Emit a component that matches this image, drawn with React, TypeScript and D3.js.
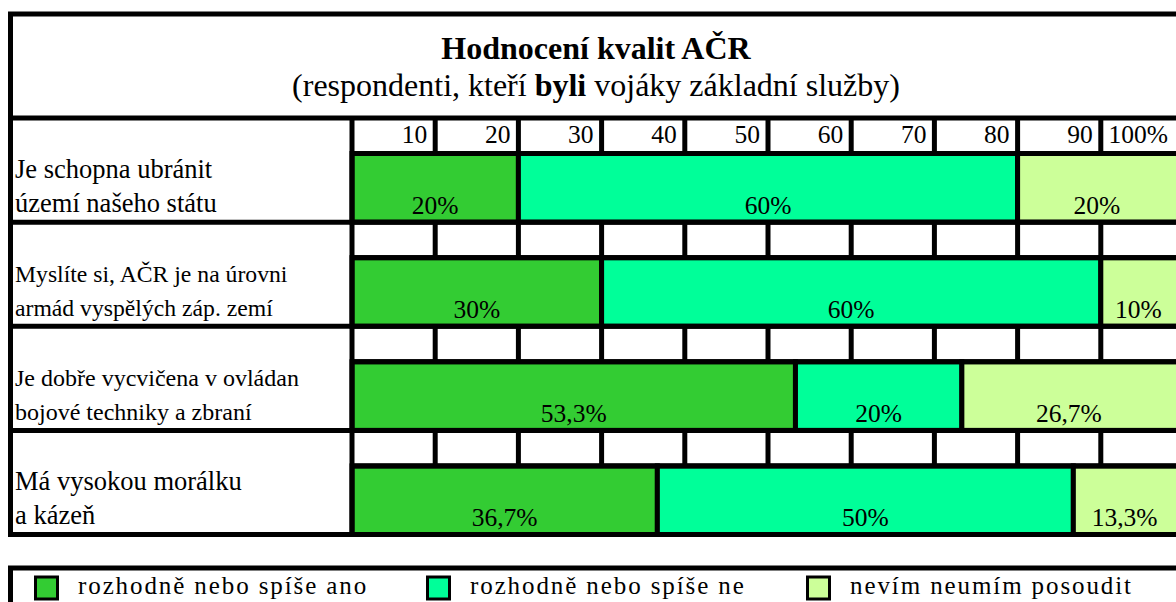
import React from 'react'
import * as d3 from 'd3'

// data
const questions = [
  ['Je schopna ubránit', 'území našeho státu'],
  ['Myslíte si, AČR je na úrovni', 'armád vyspělých záp. zemí'],
  ['Je dobře vycvičena v ovládan', 'bojové techniky a zbraní'],
  ['Má vysokou morálku', 'a kázeň'],
]
const ano = [20, 30, 53.3, 36.7]
const ne = [60, 60, 20, 50]
const nevim = [20, 10, 26.7, 13.3]
const ticks = [10, 20, 30, 40, 50, 60, 70, 80, 90, 100]
const seriesNames = ['rozhodně nebo spíše ano', 'rozhodně nebo spíše ne', 'nevím neumím posoudit']

const colors = ['#33CC33', '#00FF99', '#CCFF99']
const labelSizes = [26.5, 23.7, 24, 26.5]
const legendX = [34, 426, 806]

const W = 1176
const H = 602
const font = '"Liberation Serif", "Times New Roman", serif'
const LW = 5

const fmt = (v: number) => String(v).replace('.', ',') + '%'

export default function App() {
  const table = questions.map((q, i) => ({ i, ano: ano[i], ne: ne[i], nevim: nevim[i] }))
  const stack = d3.stack<any>().keys(['ano', 'ne', 'nevim'])(table)

  const x = d3.scaleLinear().domain([0, 100]).range([352, 1184])
  const y = d3.scaleBand<number>().domain(questions.map((q, i) => i)).range([118, 534.5])
  const tickH = 35.5
  const bw = y.bandwidth()
  const right = 1200

  return (
    <svg width={W} height={H} style={{ position: 'absolute', left: 0, top: 0 }} fontFamily={font}>
      <rect width={W} height={H} fill="#fff" />

      {/* bars */}
      {stack.map((s, k) =>
        s.map((d, i) => (
          <rect key={k + '-' + i}
            x={x(d[0])} width={x(d[1]) - x(d[0])}
            y={y(i)! + tickH} height={bw - tickH}
            fill={colors[k]} stroke="#000" strokeWidth={LW} />
        ))
      )}

      {/* tick cells */}
      {questions.map((q, i) =>
        ticks.slice(0, -1).map(t => (
          <line key={i + '-' + t} x1={x(t)} x2={x(t)} y1={y(i)} y2={y(i)! + tickH}
            stroke="#000" strokeWidth={LW} />
        ))
      )}
      {questions.map((q, i) => (
        <g key={'h' + i}>
          <line x1={8} x2={right} y1={y(i)} y2={y(i)} stroke="#000" strokeWidth={LW} />
          <line x1={x(0)} x2={right} y1={y(i)! + tickH} y2={y(i)! + tickH} stroke="#000" strokeWidth={LW} />
        </g>
      ))}
      <line x1={x(0)} x2={x(0)} y1={118} y2={534.5} stroke="#000" strokeWidth={LW} />

      {/* frame */}
      <rect x={10.5} y={14} width={right} height={534.5 - 14} fill="none" stroke="#000" strokeWidth={LW} />

      {/* title */}
      <text x={596} y={59} textAnchor="middle" fontSize={32} fontWeight="bold">Hodnocení kvalit AČR</text>
      <text x={596} y={96} textAnchor="middle" fontSize={32}>
        (respondenti, kteří <tspan fontWeight="bold">byli</tspan> vojáky základní služby)
      </text>

      {/* tick labels */}
      {ticks.map(t => (
        <text key={'t' + t} x={Math.min(x(t), W) - 8} y={y(0)! + 24.5} textAnchor="end" fontSize={25.5}>
          {t === 100 ? t + '%' : t}
        </text>
      ))}

      {/* row labels */}
      {questions.map((q, i) => (
        <text key={'q' + i} x={15} fontSize={labelSizes[i]}>
          {q.map((line, j) => (
            <tspan key={j} x={15} y={y(i)! + 60 + j * 34}>{line}</tspan>
          ))}
        </text>
      ))}

      {/* value labels */}
      {stack.map((s, k) =>
        s.map((d, i) => (
          <text key={'v' + k + '-' + i} x={(x(d[0]) + Math.min(x(d[1]), W)) / 2} y={y(i)! + 95.5}
            textAnchor="middle" fontSize={25.5}>
            {fmt([ano, ne, nevim][k][i])}
          </text>
        ))
      )}

      {/* legend */}
      <rect x={10.5} y={568} width={right} height={100} fill="none" stroke="#000" strokeWidth={LW} />
      {seriesNames.map((n, k) => (
        <g key={'l' + k} transform={`translate(${legendX[k]},0)`}>
          <rect x={1.5} y={577} width={22} height={22} fill={colors[k]} stroke="#000" strokeWidth={3} />
          <text x={44} y={594} fontSize={25} letterSpacing={1.9}>{n}</text>
        </g>
      ))}
    </svg>
  )
}
